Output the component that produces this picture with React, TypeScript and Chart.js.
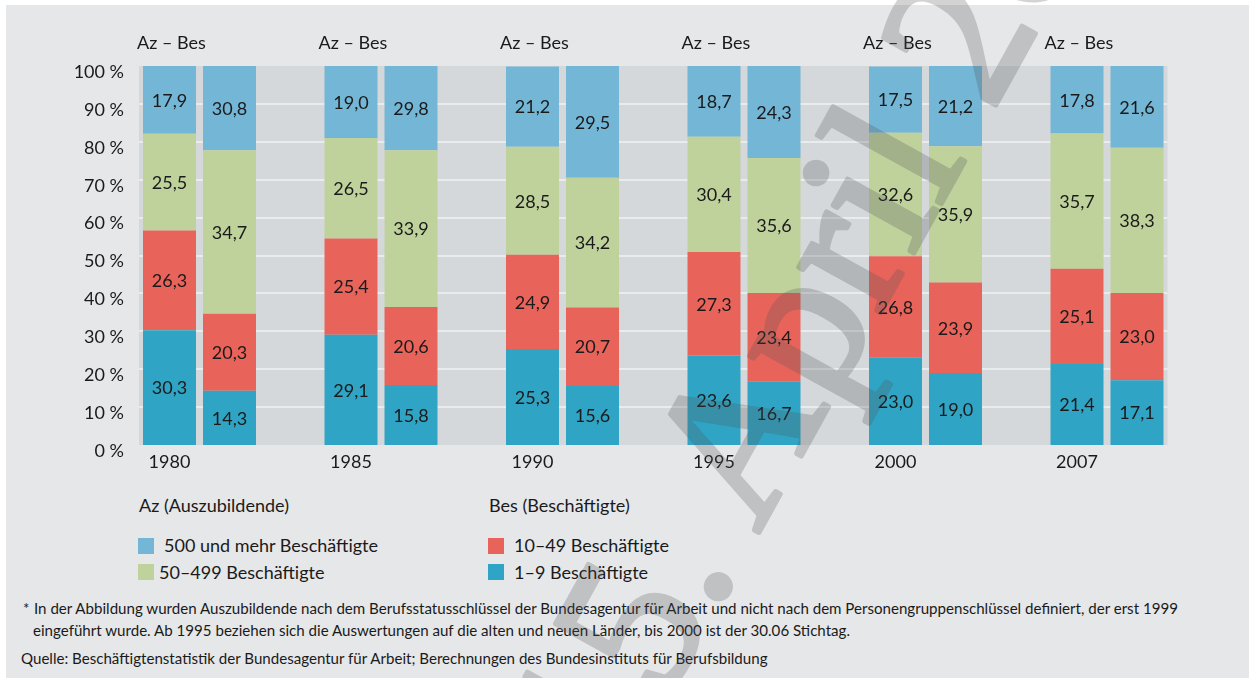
import React, { useEffect, useRef } from "react";
import { Chart, registerables } from "chart.js";

Chart.register(...registerables);

// ---------- data ----------
const years = ["1980", "1985", "1990", "1995", "2000", "2007"];
const groupLabel = "Az – Bes";

// Az (Auszubildende), percentages by firm size
const az1to9 = [30.3, 29.1, 25.3, 23.6, 23.0, 21.4];
const az10to49 = [26.3, 25.4, 24.9, 27.3, 26.8, 25.1];
const az50to499 = [25.5, 26.5, 28.5, 30.4, 32.6, 35.7];
const az500plus = [17.9, 19.0, 21.2, 18.7, 17.5, 17.8];

// Bes (Beschäftigte), printed values
const bes1to9 = [14.3, 15.8, 15.6, 16.7, 19.0, 17.1];
const bes10to49 = [20.3, 20.6, 20.7, 23.4, 23.9, 23.0];
const bes50to499 = [34.7, 33.9, 34.2, 35.6, 35.9, 38.3];
const bes500plus = [30.8, 29.8, 29.5, 24.3, 21.2, 21.6];

// Bes bar heights as drawn in the original (1980/1985 bars differ from their printed labels)
const bes50to499Drawn = [43.2, 41.4, 34.2, 35.6, 35.9, 38.3];
const bes500plusDrawn = [22.2, 22.2, 29.5, 24.3, 21.2, 21.6];

const yTicks = [0, 10, 20, 30, 40, 50, 60, 70, 80, 90, 100];

// ---------- styles ----------
const FONT = "Lato, 'Liberation Sans', sans-serif";
const TEXT = "#1a1a1a";
const C500 = "#74b6d6";
const C50 = "#bfd29c";
const C10 = "#e8645b";
const C1 = "#2fa4c4";
const PANEL = "#e6e7e9";
const PLOT = "#d5d8db";
const GRID = "#eaebed";

const fmt = (v: number) => v.toFixed(1).replace(".", ",");
const yFmt = (v: number) => `${v} %`;

export default function App() {
  const ref = useRef<HTMLCanvasElement | null>(null);

  useEffect(() => {
    if (!ref.current) return;
    const defs = [
      { label: "1–9 Beschäftigte", stack: "Az", data: az1to9, printed: az1to9, color: C1 },
      { label: "10–49 Beschäftigte", stack: "Az", data: az10to49, printed: az10to49, color: C10 },
      { label: "50–499 Beschäftigte", stack: "Az", data: az50to499, printed: az50to499, color: C50 },
      { label: "500 und mehr Beschäftigte", stack: "Az", data: az500plus, printed: az500plus, color: C500 },
      { label: "1–9 Beschäftigte", stack: "Bes", data: bes1to9, printed: bes1to9, color: C1 },
      { label: "10–49 Beschäftigte", stack: "Bes", data: bes10to49, printed: bes10to49, color: C10 },
      { label: "50–499 Beschäftigte", stack: "Bes", data: bes50to499Drawn, printed: bes50to499, color: C50 },
      { label: "500 und mehr Beschäftigte", stack: "Bes", data: bes500plusDrawn, printed: bes500plus, color: C500 },
    ];

    // widest y label, to right-align mirrored labels at x = 124
    const mctx = document.createElement("canvas").getContext("2d")!;
    mctx.font = `18px ${FONT}`;
    const widest = Math.max(...yTicks.map((t) => mctx.measureText(yFmt(t)).width));
    const Y_AXIS_W = 108.75;
    const yPad = 124 - Y_AXIS_W - widest;

    const plotBg = {
      id: "plotBg",
      beforeDatasetsDraw(chart: any) {
        const { ctx } = chart;
        const y = chart.scales.y;
        const m0 = chart.getDatasetMeta(0).data;
        const m4 = chart.getDatasetMeta(4).data;
        if (!m0.length || !m4.length) return;
        const first = m0[0].getProps(["x", "width"], true);
        const last = m4[m4.length - 1].getProps(["x", "width"], true);
        const left = first.x - first.width / 2 - 4;
        const right = last.x + last.width / 2 + 4;
        const top = y.getPixelForValue(100);
        const bottom = y.getPixelForValue(0);
        ctx.save();
        ctx.fillStyle = PLOT;
        ctx.fillRect(left, top, right - left, bottom - top);
        ctx.strokeStyle = GRID;
        ctx.lineWidth = 2;
        yTicks.forEach((t) => {
          if (t === 0 || t === 100) return;
          const py = Math.round(y.getPixelForValue(t));
          ctx.beginPath();
          ctx.moveTo(left, py);
          ctx.lineTo(right, py);
          ctx.stroke();
        });
        ctx.restore();
      },
    };

    const valueLabels = {
      id: "valueLabels",
      afterDatasetsDraw(chart: any) {
        const { ctx } = chart;
        ctx.save();
        ctx.font = `18px ${FONT}`;
        ctx.fillStyle = TEXT;
        ctx.textAlign = "center";
        ctx.textBaseline = "middle";
        defs.forEach((d, i) => {
          const meta = chart.getDatasetMeta(i);
          meta.data.forEach((bar: any, j: number) => {
            const p = bar.getProps(["x", "y", "base"], true);
            ctx.fillText(fmt(d.printed[j]), p.x, (p.y + p.base) / 2 + 1);
          });
        });
        ctx.restore();
      },
    };

    const chart = new Chart(ref.current, {
      type: "bar",
      data: {
        labels: years,
        datasets: defs.map((d) => ({
          label: d.label,
          stack: d.stack,
          data: d.data,
          backgroundColor: d.color,
          borderWidth: 0,
          categoryPercentage: 120 / 181.5,
          barPercentage: 53 / 60,
        })),
      },
      options: {
        responsive: false,
        animation: false,
        devicePixelRatio: 1,
        layout: { padding: { left: 0, right: 51.25, top: 0, bottom: 0 } },
        plugins: {
          legend: { display: false },
          tooltip: { enabled: false },
          title: { display: false },
        },
        scales: {
          x: {
            type: "category",
            stacked: true,
            offset: true,
            grid: { display: false, drawTicks: false },
            border: { display: false },
            ticks: {
              color: TEXT,
              font: { family: FONT, size: 18 },
              padding: 6,
              labelOffset: -30,
              maxRotation: 0,
              autoSkip: false,
            },
            afterFit: (s: any) => {
              s.height = 35;
            },
          },
          x2: {
            type: "category",
            position: "top",
            offset: true,
            grid: { display: false, drawTicks: false },
            border: { display: false },
            ticks: {
              color: TEXT,
              font: { family: FONT, size: 18 },
              padding: 12,
              labelOffset: -28,
              maxRotation: 0,
              autoSkip: false,
              callback: () => groupLabel,
            },
            afterFit: (s: any) => {
              s.height = 66;
            },
          },
          y: {
            stacked: true,
            min: 0,
            max: 100,
            grid: { display: false, drawTicks: false },
            border: { display: false },
            ticks: {
              stepSize: 10,
              color: TEXT,
              font: { family: FONT, size: 18 },
              mirror: true,
              crossAlign: "far",
              padding: yPad,
              labelOffset: 6,
              callback: (v: any) => yFmt(v),
            },
            afterFit: (s: any) => {
              s.width = Y_AXIS_W;
            },
          },
        },
      },
      plugins: [plotBg, valueLabels],
    } as any);

    return () => chart.destroy();
  }, []);

  const text: React.CSSProperties = {
    position: "absolute",
    fontFamily: FONT,
    color: TEXT,
    whiteSpace: "nowrap",
  };
  const legText = (left: number, cy: number, s: string) => (
    <div style={{ ...text, left, top: cy - 11, fontSize: 18, lineHeight: "22px" }}>{s}</div>
  );
  const sq = (left: number, top: number, color: string) => (
    <div style={{ position: "absolute", left, top, width: 16, height: 16, background: color }} />
  );
  const foot = (left: number, cy: number, s: string) => (
    <div style={{ ...text, left, top: cy - 9, fontSize: 15.1, lineHeight: "18px" }}>{s}</div>
  );

  return (
    <div style={{ position: "absolute", left: 0, top: 0, width: 1249, height: 678, overflow: "hidden" }}>
      <div style={{ position: "absolute", left: 6, top: 5, width: 1243, height: 673, background: PANEL }} />
      <canvas
        ref={ref}
        width={1249}
        height={480}
        style={{ position: "absolute", left: 0, top: 0, width: 1249, height: 480 }}
      />
      {legText(139, 505, "Az (Auszubildende)")}
      {legText(489, 505, "Bes (Beschäftigte)")}
      {sq(138, 538, C500)}
      {legText(164, 545, "500 und mehr Beschäftigte")}
      {sq(138, 564, C50)}
      {legText(159, 572, "50–499 Beschäftigte")}
      {sq(488, 538, C10)}
      {legText(514, 545, "10–49 Beschäftigte")}
      {sq(488, 564, C1)}
      {legText(514, 572, "1–9 Beschäftigte")}
      {foot(23, 608, "*")}
      {foot(
        34,
        608,
        "In der Abbildung wurden Auszubildende nach dem Berufsstatusschlüssel der Bundesagentur für Arbeit und nicht nach dem Personengruppenschlüssel definiert, der erst 1999"
      )}
      {foot(
        33,
        630,
        "eingeführt wurde. Ab 1995 beziehen sich die Auswertungen auf die alten und neuen Länder, bis 2000 ist der 30.06 Stichtag."
      )}
      {foot(
        21,
        658,
        "Quelle: Beschäftigtenstatistik der Bundesagentur für Arbeit; Berechnungen des Bundesinstituts für Berufsbildung"
      )}
      <svg
        width={1249}
        height={678}
        style={{ position: "absolute", left: 0, top: 0, pointerEvents: "none" }}
      >
        <g opacity={0.25}>
          <text
            x={615}
            y={792}
            transform="rotate(-61 615 792)"
            fill="rgb(80,80,85)"
            stroke="rgb(80,80,85)"
            strokeWidth={5}
            strokeLinejoin="round"
            fontFamily="'Liberation Serif', 'DejaVu Serif', serif"
            fontSize={204}
          >
            15. April 2009
          </text>
        </g>
      </svg>
    </div>
  );
}
